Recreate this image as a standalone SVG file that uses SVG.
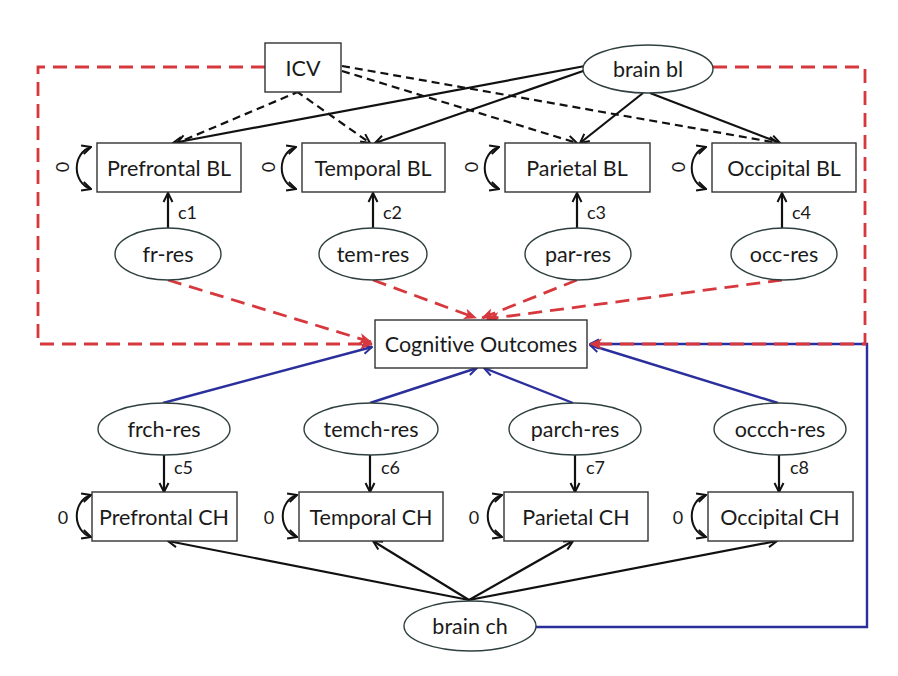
<svg xmlns="http://www.w3.org/2000/svg" width="898" height="676" viewBox="0 0 898 676">
<style>
.box{fill:#fff;stroke:#333;stroke-width:1.4}
.ell{fill:#fff;stroke:#2f3f3f;stroke-width:1.4}
.t{font-family:Lato,"Liberation Sans",sans-serif;font-size:21.5px;fill:#1a1a1a;text-anchor:middle;dominant-baseline:central;font-variant-ligatures:none}
.s{font-family:Lato,"Liberation Sans",sans-serif;font-size:18px;fill:#1a1a1a;dominant-baseline:central}
.z{font-family:Lato,"Liberation Sans",sans-serif;font-size:18px;fill:#1a1a1a;text-anchor:middle;dominant-baseline:central}
.k{fill:none;stroke:#111;stroke-width:2.2}
.kd{fill:none;stroke:#111;stroke-width:2.2;stroke-dasharray:8 5}
.r{fill:none;stroke:#d6383d;stroke-width:2.8;stroke-dasharray:14 8}
.b{fill:none;stroke:#2a2f9c;stroke-width:2.4}
.loop{fill:none;stroke:#111;stroke-width:2}
</style>
<defs>
<marker id="ak" viewBox="0 0 12 12" refX="11" refY="6" markerWidth="12" markerHeight="12" markerUnits="userSpaceOnUse" orient="auto-start-reverse"><path d="M2,1.5 L11,6 L2,10.5" fill="none" stroke="#111" stroke-width="2"/></marker>
<marker id="ar" viewBox="0 0 12 12" refX="11" refY="6" markerWidth="13" markerHeight="13" markerUnits="userSpaceOnUse" orient="auto"><path d="M0,1 L12,6 L0,11 L3,6 z" fill="#d6383d"/></marker>
<marker id="abl" viewBox="0 0 12 12" refX="11" refY="6" markerWidth="12" markerHeight="12" markerUnits="userSpaceOnUse" orient="auto"><path d="M2,1.5 L11,6 L2,10.5" fill="none" stroke="#2a2f9c" stroke-width="2"/></marker>
</defs>

<g id="connectors">
<path class="b" d="M536,627 H867 V344 H590" marker-end="url(#abl)"/>
<path class="b" d="M163,403 L372,347" marker-end="url(#abl)"/>
<path class="b" d="M370,403 L477,368" marker-end="url(#abl)"/>
<path class="b" d="M573,403 L484,368" marker-end="url(#abl)"/>
<path class="b" d="M778,403 L590,345" marker-end="url(#abl)"/>
<path class="r" d="M265,67 H38 V344 H372" marker-end="url(#ar)"/>
<path class="r" d="M713,67 H865 V344 H590" marker-end="url(#ar)"/>
<path class="r" d="M168,280 L371,342" marker-end="url(#ar)"/>
<path class="r" d="M373,280 L476,318" marker-end="url(#ar)"/>
<path class="r" d="M577,280 L482,318" marker-end="url(#ar)"/>
<path class="r" d="M782,280 L487,319" marker-end="url(#ar)"/>
<path class="k" d="M585,66 L173,143" marker-end="url(#ak)"/>
<path class="k" d="M586,70 L375,143" marker-end="url(#ak)"/>
<path class="k" d="M643,93 L580,143" marker-end="url(#ak)"/>
<path class="k" d="M650,93 L780,143" marker-end="url(#ak)"/>
<path class="kd" d="M300,91 L177,143" marker-end="url(#ak)"/>
<path class="kd" d="M296,91 L370,143" marker-end="url(#ak)"/>
<path class="kd" d="M342,66 L778,143" marker-end="url(#ak)"/>
<path class="kd" d="M342,71 L577,143" marker-end="url(#ak)"/>
<path class="k" d="M168,228 V193" marker-end="url(#ak)"/>
<path class="k" d="M373,228 V193" marker-end="url(#ak)"/>
<path class="k" d="M577,228 V193" marker-end="url(#ak)"/>
<path class="k" d="M782,228 V193" marker-end="url(#ak)"/>
<path class="k" d="M164,455 V492" marker-end="url(#ak)"/>
<path class="k" d="M370,455 V492" marker-end="url(#ak)"/>
<path class="k" d="M575,455 V492" marker-end="url(#ak)"/>
<path class="k" d="M779,455 V492" marker-end="url(#ak)"/>
<path class="k" d="M469,600 L168,541" marker-end="url(#ak)"/>
<path class="k" d="M469,600 L373,541" marker-end="url(#ak)"/>
<path class="k" d="M469,600 L573,541" marker-end="url(#ak)"/>
<path class="k" d="M469,600 L777,541" marker-end="url(#ak)"/>
<path class="loop" d="M91,147 C72,153 72,183 91,189" marker-start="url(#ak)" marker-end="url(#ak)"/>
<path class="loop" d="M296,147 C277,153 277,183 296,189" marker-start="url(#ak)" marker-end="url(#ak)"/>
<path class="loop" d="M499,147 C480,153 480,183 499,189" marker-start="url(#ak)" marker-end="url(#ak)"/>
<path class="loop" d="M706,147 C687,153 687,183 706,189" marker-start="url(#ak)" marker-end="url(#ak)"/>
<path class="loop" d="M91,495 C72,501 72,531 91,537" marker-start="url(#ak)" marker-end="url(#ak)"/>
<path class="loop" d="M297,495 C278,501 278,531 297,537" marker-start="url(#ak)" marker-end="url(#ak)"/>
<path class="loop" d="M502,495 C483,501 483,531 502,537" marker-start="url(#ak)" marker-end="url(#ak)"/>
<path class="loop" d="M706,495 C687,501 687,531 706,537" marker-start="url(#ak)" marker-end="url(#ak)"/>
</g>

<g id="labels">
<text class="z" transform="rotate(-90 62 167)" x="62" y="167">0</text>
<text class="z" transform="rotate(-90 268 167)" x="268" y="167">0</text>
<text class="z" transform="rotate(-90 471 167)" x="471" y="167">0</text>
<text class="z" transform="rotate(-90 678 167)" x="678" y="167">0</text>
<text class="z" x="63" y="517">0</text>
<text class="z" x="269" y="517">0</text>
<text class="z" x="474" y="517">0</text>
<text class="z" x="678" y="517">0</text>
<text class="s" x="178" y="212">c1</text>
<text class="s" x="383" y="212">c2</text>
<text class="s" x="587" y="212">c3</text>
<text class="s" x="792" y="212">c4</text>
<text class="s" x="174" y="467">c5</text>
<text class="s" x="381" y="467">c6</text>
<text class="s" x="586" y="467">c7</text>
<text class="s" x="790" y="467">c8</text>
</g>

<g id="icv"><rect class="box" x="265" y="43" width="76" height="49"/><text class="t" x="303" y="68">ICV</text></g>
<g id="brain-bl"><ellipse class="ell" cx="648" cy="69" rx="65" ry="24"/><text class="t" x="648" y="69">brain bl</text></g>

<g id="prefrontal-bl"><rect class="box" x="97" y="143" width="144" height="49"/><text class="t" x="169" y="168">Prefrontal BL</text></g>
<g id="temporal-bl"><rect class="box" x="302" y="143" width="143" height="49"/><text class="t" x="373" y="168">Temporal BL</text></g>
<g id="parietal-bl"><rect class="box" x="505" y="143" width="145" height="49"/><text class="t" x="577" y="168">Parietal BL</text></g>
<g id="occipital-bl"><rect class="box" x="712" y="143" width="144" height="49"/><text class="t" x="784" y="168">Occipital BL</text></g>

<g id="fr-res"><ellipse class="ell" cx="168" cy="254" rx="53" ry="26"/><text class="t" x="168" y="254">fr-res</text></g>
<g id="tem-res"><ellipse class="ell" cx="373" cy="254" rx="54" ry="26"/><text class="t" x="373" y="254">tem-res</text></g>
<g id="par-res"><ellipse class="ell" cx="578" cy="254" rx="53" ry="26"/><text class="t" x="578" y="254">par-res</text></g>
<g id="occ-res"><ellipse class="ell" cx="784" cy="254" rx="53" ry="26"/><text class="t" x="784" y="254">occ-res</text></g>

<g id="cognitive-outcomes"><rect class="box" x="375" y="320" width="212" height="48"/><text class="t" x="481" y="344">Cognitive Outcomes</text></g>

<g id="frch-res"><ellipse class="ell" cx="164" cy="429" rx="66" ry="26"/><text class="t" x="164" y="429">frch-res</text></g>
<g id="temch-res"><ellipse class="ell" cx="371" cy="429" rx="67" ry="26"/><text class="t" x="371" y="429">temch-res</text></g>
<g id="parch-res"><ellipse class="ell" cx="575" cy="429" rx="66" ry="26"/><text class="t" x="575" y="429">parch-res</text></g>
<g id="occch-res"><ellipse class="ell" cx="780" cy="429" rx="66" ry="26"/><text class="t" x="780" y="429">occch-res</text></g>

<g id="prefrontal-ch"><rect class="box" x="92" y="492" width="145" height="49"/><text class="t" x="164" y="517">Prefrontal CH</text></g>
<g id="temporal-ch"><rect class="box" x="299" y="492" width="144" height="49"/><text class="t" x="371" y="517">Temporal CH</text></g>
<g id="parietal-ch"><rect class="box" x="504" y="492" width="144" height="49"/><text class="t" x="576" y="517">Parietal CH</text></g>
<g id="occipital-ch"><rect class="box" x="708" y="492" width="145" height="49"/><text class="t" x="780" y="517">Occipital CH</text></g>

<g id="brain-ch"><ellipse class="ell" cx="470" cy="626" rx="66" ry="25"/><text class="t" x="470" y="626">brain ch</text></g>
</svg>
